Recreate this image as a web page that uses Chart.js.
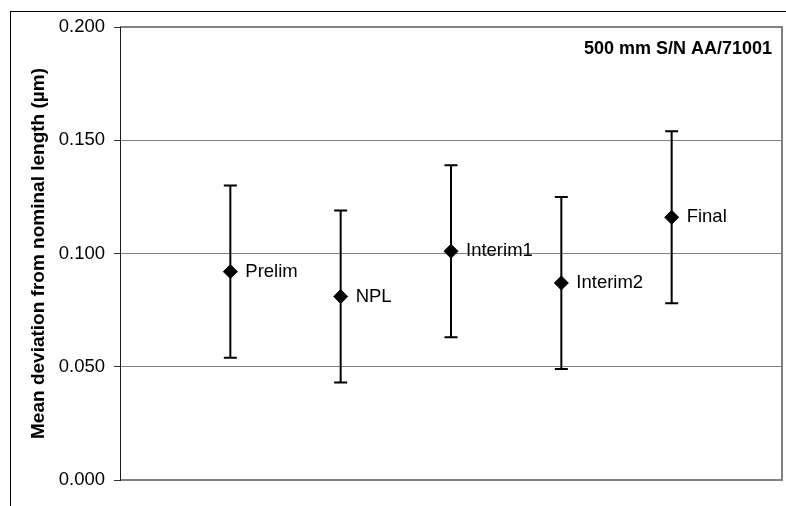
<!DOCTYPE html>
<html>
<head>
<meta charset="utf-8">
<script src="https://cdn.jsdelivr.net/npm/chart.js@4.4.1/dist/chart.umd.min.js"></script>
<style>
  html, body { margin: 0; padding: 0; background: #fff; }
  #wrap { width: 786px; height: 506px; position: relative; }
</style>
</head>
<body>
<div id="wrap"><canvas id="c" width="786" height="506"></canvas></div>
<script>
const categories = ["Prelim", "NPL", "Interim1", "Interim2", "Final"];
const means = [0.092, 0.081, 0.101, 0.087, 0.116];
const errors = [0.038, 0.038, 0.038, 0.038, 0.038];
const yTicks = [0.000, 0.050, 0.100, 0.150, 0.200];
const yTitle = "Mean deviation from nominal length (\u00b5m)";
const boxLabel = "500 mm S/N AA/71001";

const FONT = "'Liberation Sans', Arial, Helvetica, sans-serif";

const framePlugin = {
  id: 'frame',
  beforeDraw(chart) {
    const ctx = chart.ctx;
    ctx.save();
    ctx.fillStyle = '#fff';
    ctx.fillRect(0, 0, chart.width, chart.height);
    ctx.strokeStyle = '#000';
    ctx.lineWidth = 1;
    ctx.strokeRect(10.5, 11.5, 2000, 2000);
    ctx.restore();
  },
  beforeDatasetsDraw(chart) {
    const ctx = chart.ctx;
    const a = chart.chartArea;
    const ys = chart.scales.y;
    const xs = chart.scales.x;
    ctx.save();
    ctx.strokeStyle = '#808080';
    ctx.lineWidth = 2;
    ctx.beginPath();
    ctx.moveTo(a.left, ys.getPixelForValue(yTicks[yTicks.length - 1]));
    ctx.lineTo(a.right, ys.getPixelForValue(yTicks[yTicks.length - 1]));
    ctx.lineTo(a.right, ys.getPixelForValue(yTicks[0]));
    ctx.lineTo(a.left, ys.getPixelForValue(yTicks[0]));
    ctx.stroke();
    ctx.strokeStyle = '#1a1a1a';
    ctx.lineWidth = 1;
    ctx.beginPath();
    ctx.moveTo(a.left + 0.5, a.top);
    ctx.lineTo(a.left + 0.5, a.bottom + 1);
    ctx.stroke();
    ctx.strokeStyle = '#000';
    ctx.lineWidth = 2;
    const cap = 6.5;
    means.forEach((m, i) => {
      const px = xs.getPixelForValue(i + 1);
      const yHi = ys.getPixelForValue(m + errors[i]);
      const yLo = ys.getPixelForValue(m - errors[i]);
      ctx.beginPath();
      ctx.moveTo(px, yHi);
      ctx.lineTo(px, yLo);
      ctx.moveTo(px - cap, yHi);
      ctx.lineTo(px + cap, yHi);
      ctx.moveTo(px - cap, yLo);
      ctx.lineTo(px + cap, yLo);
      ctx.stroke();
    });
    ctx.restore();
  },
  afterDatasetsDraw(chart) {
    const ctx = chart.ctx;
    const meta = chart.getDatasetMeta(0);
    ctx.save();
    ctx.fillStyle = '#000';
    ctx.font = "18.5px " + FONT;
    ctx.textAlign = 'left';
    ctx.textBaseline = 'middle';
    meta.data.forEach((pt, i) => {
      ctx.fillText(categories[i], pt.x + 15, pt.y);
    });
    ctx.font = "bold 18px " + FONT;
    ctx.textAlign = 'right';
    ctx.fillText(boxLabel, 772, 49.5);
    ctx.restore();
  }
};

new Chart(document.getElementById('c'), {
  type: 'scatter',
  data: {
    datasets: [{
      data: means.map((m, i) => ({ x: i + 1, y: m })),
      pointStyle: 'rectRot',
      pointRadius: 7,
      pointHoverRadius: 7,
      pointBackgroundColor: '#000',
      pointBorderColor: '#000',
      pointBorderWidth: 1,
      showLine: false
    }]
  },
  options: {
    responsive: false,
    devicePixelRatio: 1,
    animation: false,
    events: [],
    layout: { autoPadding: false, padding: { left: 0, top: 27, right: 4, bottom: 26 } },
    plugins: { legend: { display: false }, tooltip: { enabled: false } },
    scales: {
      x: {
        type: 'linear', min: 0, max: 6, display: false
      },
      y: {
        type: 'linear',
        min: yTicks[0], max: yTicks[yTicks.length - 1],
        afterFit(scale) { scale.width = 120; },
        afterBuildTicks(scale) { scale.ticks = yTicks.map(v => ({ value: v })); },
        ticks: {
          color: '#000',
          padding: 9,
          font: { family: FONT, size: 18.5 },
          callback: v => Number(v).toFixed(3)
        },
        grid: {
          color: '#808080',
          lineWidth: 1,
          tickColor: '#333',
          tickLength: 6,
          drawTicks: true
        },
        border: { display: false },
        title: {
          display: true,
          text: yTitle,
          color: '#000',
          font: { family: FONT, size: 19, weight: 'bold' },
          padding: { top: 27, bottom: 0 }
        }
      }
    }
  },
  plugins: [framePlugin]
});
</script>
</body>
</html>
